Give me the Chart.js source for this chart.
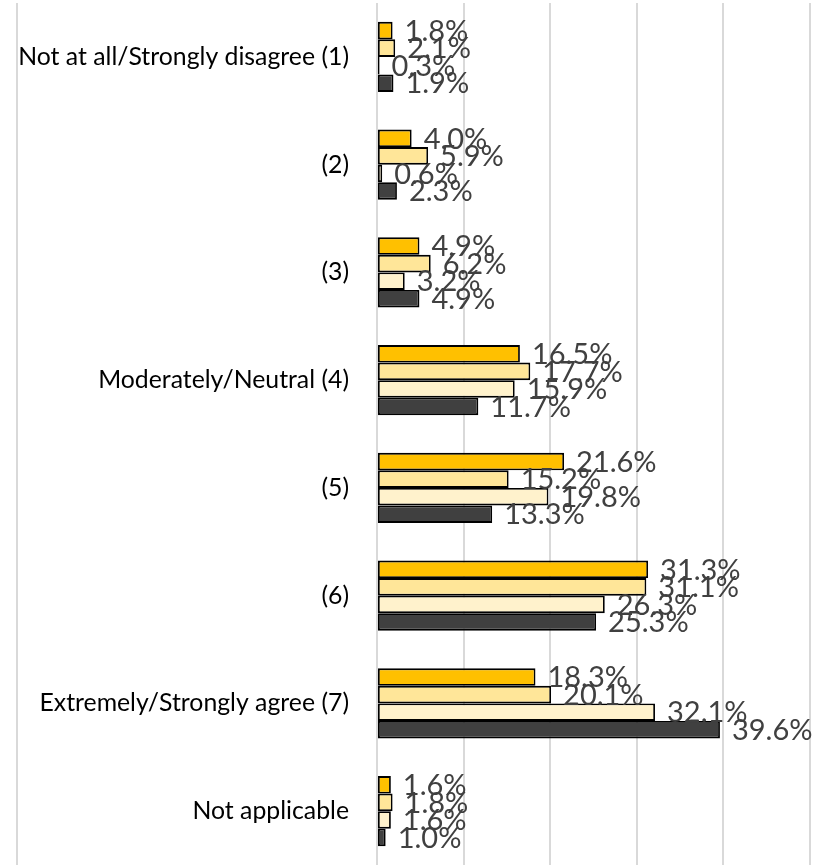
<!DOCTYPE html>
<html>
<head>
<meta charset="utf-8">
<script src="https://cdn.jsdelivr.net/npm/chart.js@4/dist/chart.umd.min.js"></script>
<style>
  body { margin: 0; background: #fff; }
  #wrap { position: relative; width: 818px; height: 865px; }
  #frame { position: absolute; left: 16px; top: 3px; bottom: 0; width: 2px; background: #d9d9d9; }
</style>
</head>
<body>
<div id="wrap">
  <div id="frame"></div>
  <canvas id="chartRating" width="818" height="865"></canvas>
</div>
<script>
// ---- Data ----
const categories = [
    "Not at all/Strongly disagree (1)",
    "(2)",
    "(3)",
    "Moderately/Neutral (4)",
    "(5)",
    "(6)",
    "Extremely/Strongly agree (7)",
    "Not applicable"
];
const seriesA = [1.8, 4.0, 4.9, 16.5, 21.6, 31.3, 18.3, 1.6];
const seriesB = [2.1, 5.9, 6.2, 17.7, 15.2, 31.1, 20.1, 1.8];
const seriesC = [0.3, 0.6, 3.2, 15.9, 19.8, 26.3, 32.1, 1.6];
const seriesD = [1.9, 2.3, 4.9, 11.7, 13.3, 25.3, 39.6, 1.0];

const colors = ["#FFC000", "#FFE699", "#FFF2CC", "#404040"];

// ---- Label persen di ujung bar ----
const valueLabels = {
    id: "valueLabels",
    afterDatasetsDraw(chart) {
        const ctx = chart.ctx;
        ctx.save();
        ctx.font = "29px Lato";
        ctx.fillStyle = "#404040";
        ctx.textAlign = "left";
        ctx.textBaseline = "middle";
        chart.data.datasets.forEach((ds, i) => {
            chart.getDatasetMeta(i).data.forEach((bar, j) => {
                ctx.fillText(ds.data[j].toFixed(1) + "%", bar.x + 12, bar.y + 1);
            });
        });
        ctx.restore();
    }
};

const mkSet = (label, data, idx) => ({
    label: label,
    data: data,
    backgroundColor: colors[idx],
    borderColor: "#000",
    borderWidth: 1.8,
    borderSkipped: false,
    categoryPercentage: 0.65,
    barPercentage: 1.0
});

const ctx = document.getElementById("chartRating").getContext("2d");
const chart = new Chart(ctx, {
    type: "bar",
    data: {
        labels: categories,
        datasets: [
            mkSet("A", seriesA, 0),
            mkSet("B", seriesB, 1),
            mkSet("C", seriesC, 2),
            mkSet("D", seriesD, 3)
        ]
    },
    options: {
        indexAxis: "y",
        responsive: false,
        animation: false,
        layout: { padding: { top: 3, right: 8, bottom: 0, left: 0 } },
        plugins: {
            legend: { display: false },
            tooltip: { enabled: false }
        },
        scales: {
            x: {
                min: 0,
                max: 50,
                ticks: { display: false, stepSize: 10 },
                grid: { color: "#d9d9d9", lineWidth: 2, drawTicks: false },
                border: { display: false }
            },
            y: {
                ticks: {
                    color: "#000",
                    font: { family: "Lato", size: 24.8 },
                    padding: 28
                },
                grid: { display: false, drawTicks: false },
                border: { display: false },
                afterFit(scale) {
                    // lebar sumbu tetap, tanpa padding atas/bawah dari label
                    scale.width = 377;
                    scale.paddingTop = 0;
                    scale.paddingBottom = 0;
                }
            }
        }
    },
    plugins: [valueLabels]
});
</script>
</body>
</html>
